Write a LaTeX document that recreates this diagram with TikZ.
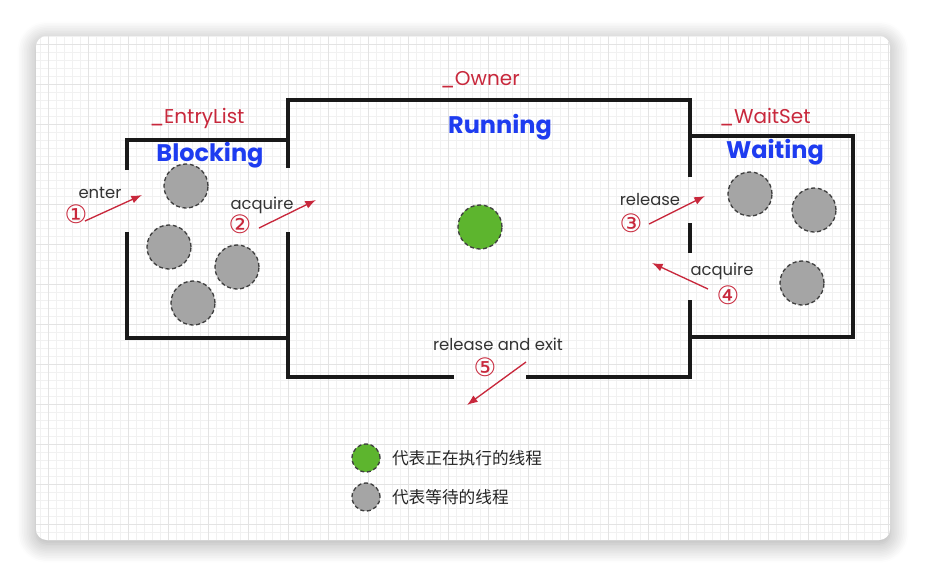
\documentclass[tikz,border=0pt]{standalone}
\usepackage{fontspec}
\setmainfont{Poppins}
\newfontfamily\cjk{Noto Sans CJK SC}
\newfontfamily\circnum{DejaVu Sans}
\usetikzlibrary{positioning,arrows.meta,shadows.blur}
\definecolor{lblred}{HTML}{C8283C}
\definecolor{hdblue}{HTML}{1E3CF0}
\definecolor{rungreen}{HTML}{5DB52E}
\definecolor{waitgray}{HTML}{A5A5A5}
\definecolor{gridminor}{HTML}{F1F1F1}
\definecolor{gridmajor}{HTML}{E3E3E3}

\begin{document}
\begin{tikzpicture}[
          x=0.75pt, y=-0.75pt,
          wall/.style={line width=2.3pt, black!90},
          thread/.style={circle, minimum size=33pt, inner sep=0pt, draw=black!75,
                         line width=1pt, dash pattern=on 3pt off 2pt},
          waiting/.style={thread, fill=waitgray},
          running/.style={thread, fill=rungreen},
          legend/.style={thread, minimum size=21pt},
          field/.style={text=lblred, font=\fontsize{15}{17}\selectfont},
          state/.style={text=hdblue, font=\fontsize{18}{20}\selectfont\bfseries},
          lbl/.style={text=black!80, font=\fontsize{12.3}{14}\selectfont},
          num/.style={text=lblred, font=\circnum\fontsize{19}{21}\selectfont},
          flow/.style={lblred, line width=1pt, -{Latex[length=8pt,width=6pt]}}
      ]
        \useasboundingbox (0,0) rectangle (926,576);
        \fill[white, rounded corners=8pt,
              blur shadow={shadow xshift=0pt, shadow yshift=-3pt, shadow blur radius=14pt,
                           shadow blur steps=12, shadow opacity=35}]
              (36,36) rectangle (890,540);
        \begin{scope}
          \clip[rounded corners=8pt] (36,36) rectangle (890,540);
          \foreach \gx in {40,48,...,888} \draw[gridminor, line width=0.4pt] (\gx,36) -- (\gx,540);
          \foreach \gy in {36,44,...,540} \draw[gridminor, line width=0.4pt] (36,\gy) -- (890,\gy);
          \foreach \gx in {48,88,...,888} \draw[gridmajor, line width=0.5pt] (\gx,36) -- (\gx,540);
          \foreach \gy in {44,84,...,540} \draw[gridmajor, line width=0.5pt] (36,\gy) -- (890,\gy);
        \end{scope}

        \draw[wall] (288,168) -- (288,100) -- (690,100) -- (690,177);
        \draw[wall] (690,223) -- (690,253);
        \draw[wall] (690,300) -- (690,377) -- (526,377);
        \draw[wall] (454,377) -- (288,377) -- (288,232);
        \draw[wall] (127,170) -- (127,140) -- (288,140);
        \draw[wall] (127,232) -- (127,338) -- (288,338);
        \draw[wall] (690,136) -- (853,136) -- (853,337) -- (690,337);

        \node[field] (entrylist) at (197,118) {\_EntryList};
        \node[state] (blocking) at (210,155) {Blocking};
        \node[field] (owner) at (480,80) {\_Owner};
        \node[state] (runninglbl) at (500,127) {Running};
        \node[field] (waitset) at (765,117) {\_WaitSet};
        \node[state] (waitinglbl) at (775,152) {Waiting};

        \node[waiting] (b1) at (186,186) {};
        \node[waiting] (b2) at (169,247) {};
        \node[waiting] (b3) at (237,267) {};
        \node[waiting] (b4) at (193,303) {};
        \node[running] (owner thread) at (480,227) {};
        \node[waiting] (w1) at (750,194) {};
        \node[waiting] (w2) at (814,210) {};
        \node[waiting] (w3) at (802,283) {};

        \node[lbl] (enter) at (100,193) {enter};
        \node[num] (n1) at (76,214) {①};
        \coordinate (enter from) at (85,221);
        \coordinate (enter to) at (142,195);
        \draw[flow] (enter from) -- (enter to);

        \node[lbl] (acquire1) at (262,205) {acquire};
        \node[num] (n2) at (240,224) {②};
        \coordinate (acq from) at (259,228);
        \coordinate (acq to) at (316,200);
        \draw[flow] (acq from) -- (acq to);

        \node[lbl] (release) at (650,199) {release};
        \node[num] (n3) at (631,223) {③};
        \coordinate (rel from) at (649,224);
        \coordinate (rel to) at (705,196);
        \draw[flow] (rel from) -- (rel to);

        \node[lbl] (acquire2) at (722,271) {acquire};
        \node[num] (n4) at (728,295) {④};
        \coordinate (reacq from) at (708,289);
        \coordinate (reacq to) at (652,263);
        \draw[flow] (reacq from) -- (reacq to);

        \node[lbl] (exit) at (498,344) {release and exit};
        \node[num] (n5) at (485,367) {⑤};
        \coordinate (exit from) at (526,362);
        \coordinate (exit to) at (467,405);
        \draw[flow] (exit from) -- (exit to);

        \node[legend, fill=rungreen] (key run) at (366,458) {};
        \node[right=5pt of key run, font=\cjk\fontsize{12.5}{14}\selectfont, text=black!85] (key run text) {代表正在执行的线程};
        \node[legend, fill=waitgray] (key wait) at (366,497) {};
        \node[right=5pt of key wait, font=\cjk\fontsize{12.5}{14}\selectfont, text=black!85] (key wait text) {代表等待的线程};
      \end{tikzpicture}
\end{document}
